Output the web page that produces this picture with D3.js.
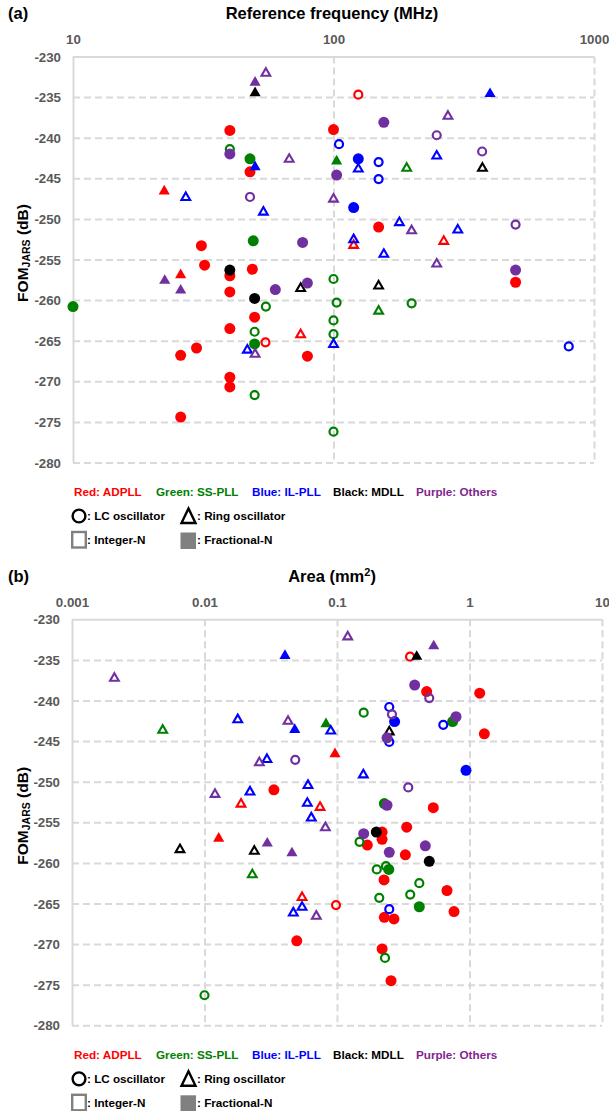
<!DOCTYPE html>
<html>
<head>
<meta charset="utf-8">
<script src="https://cdn.jsdelivr.net/npm/d3@7"></script>
<style>
  html, body { margin: 0; padding: 0; background: #fff; }
  svg { display: block; }
</style>
</head>
<body>
<svg id="chart" width="609" height="1111"></svg>
<script>
// ---- Data: [x value, FOM_JARS (dB), oscillator ("LC" | "RO"), mode ("I" integer-N | "F" fractional-N)]

// (a) FOM vs. reference frequency (MHz)
const adpllFreq = [
  [40,-239.1,"LC","F"],[47.8,-244.2,"LC","F"],[22.4,-246.4,"RO","F"],[100,-239.0,"LC","F"],
  [31.1,-253.3,"LC","F"],[124.5,-234.7,"LC","I"],[149,-251.0,"LC","F"],[265,-252.6,"RO","I"],
  [119.5,-253.1,"RO","I"],[500,-257.8,"LC","F"],[79.4,-266.9,"LC","F"],[32.0,-255.7,"LC","F"],
  [25.9,-256.7,"RO","F"],[40,-257.0,"LC","F"],[48.8,-256.2,"LC","F"],[40,-259.0,"LC","F"],
  [49.8,-262.1,"LC","F"],[40,-263.5,"LC","F"],[54.8,-265.2,"LC","I"],[74.8,-264.1,"RO","I"],
  [29.8,-265.9,"LC","F"],[25.9,-266.8,"LC","F"],[40,-269.5,"LC","F"],[40,-270.7,"LC","F"],
  [25.9,-274.4,"LC","F"]
];
const ssPllFreq = [
  [40,-241.4,"LC","I"],[47.8,-242.6,"LC","F"],[102.8,-242.7,"RO","F"],[49.2,-252.7,"LC","F"],
  [191,-243.6,"RO","I"],[100,-257.4,"LC","I"],[102.8,-260.3,"LC","I"],[199.5,-260.4,"LC","I"],
  [149,-261.2,"RO","I"],[100,-262.5,"LC","I"],[100,-264.2,"LC","I"],[100,-276.2,"LC","I"],
  [10,-260.8,"LC","F"],[55,-260.8,"LC","I"],[49.8,-263.9,"LC","I"],[49.8,-265.4,"LC","F"],
  [49.8,-271.7,"LC","I"]
];
const ilPllFreq = [
  [50,-243.4,"RO","F"],[27.1,-247.2,"RO","I"],[53.8,-249.0,"RO","I"],[105,-240.8,"LC","I"],
  [399,-234.4,"RO","F"],[249,-242.1,"RO","I"],[124.5,-242.6,"LC","F"],[124.5,-243.7,"RO","I"],
  [149,-243.0,"LC","I"],[149,-245.1,"LC","I"],[119.5,-248.6,"LC","F"],[179,-250.3,"RO","I"],
  [300,-251.2,"RO","I"],[119.5,-252.4,"RO","I"],[156,-254.2,"RO","I"],[100,-265.3,"RO","I"],
  [800,-265.7,"LC","I"],[46.7,-266.0,"RO","I"]
];
const mdllFreq = [
  [50,-234.3,"RO","F"],[373,-243.6,"RO","I"],[149,-258.1,"RO","I"],[74.8,-258.4,"RO","I"],
  [40,-256.3,"LC","F"],[49.8,-259.8,"LC","F"]
];
const othersFreq = [
  [40,-242.0,"LC","F"],[50,-233.0,"RO","F"],[55,-231.9,"RO","I"],[67.6,-242.5,"RO","I"],
  [47.8,-247.3,"LC","I"],[102.8,-244.6,"LC","F"],[100,-247.4,"RO","I"],[76.1,-252.9,"LC","F"],
  [275,-237.2,"RO","I"],[156,-238.1,"LC","F"],[249,-239.7,"LC","I"],[372,-241.7,"LC","I"],
  [199.5,-251.3,"RO","I"],[500,-250.7,"LC","I"],[249,-255.4,"RO","I"],[500,-256.3,"LC","F"],
  [79.4,-257.9,"LC","F"],[22.5,-257.4,"RO","F"],[25.9,-258.6,"RO","F"],[59.8,-258.7,"LC","F"],
  [50,-266.5,"RO","I"]
];

// (b) FOM vs. area (mm^2)
const adpllArea = [
  [0.0966,-246.4,"RO","F"],[0.0334,-251.0,"LC","F"],[0.01886,-252.6,"RO","I"],[0.0745,-253.0,"RO","I"],
  [0.0128,-256.8,"RO","F"],[0.0545,-264.1,"RO","I"],[0.0983,-265.2,"LC","I"],[0.0497,-269.6,"LC","F"],
  [0.356,-234.6,"LC","I"],[0.475,-238.9,"LC","F"],[1.194,-239.1,"LC","F"],[1.294,-244.1,"LC","F"],
  [0.533,-253.2,"LC","F"],[0.3357,-255.6,"LC","F"],[0.219,-256.2,"LC","F"],[0.219,-257.1,"LC","F"],
  [0.1694,-257.8,"LC","F"],[0.328,-259.0,"LC","F"],[0.2265,-262.1,"LC","F"],[0.676,-263.4,"LC","F"],
  [0.764,-266.0,"LC","F"],[0.2275,-266.7,"LC","F"],[0.269,-266.9,"LC","F"],[0.219,-270.6,"LC","F"],
  [0.2556,-274.5,"LC","F"]
];
const ssPllArea = [
  [0.00484,-243.5,"RO","I"],[0.0826,-242.7,"RO","F"],[0.02296,-261.3,"RO","I"],[0.01,-276.3,"LC","I"],
  [0.159,-241.5,"LC","I"],[0.746,-242.6,"LC","F"],[0.2276,-252.7,"LC","F"],[0.148,-257.4,"LC","I"],
  [0.1995,-260.8,"LC","I"],[0.2344,-260.4,"LC","I"],[0.246,-260.8,"LC","F"],[0.418,-262.5,"LC","I"],
  [0.357,-263.9,"LC","I"],[0.2085,-264.3,"LC","I"],[0.418,-265.4,"LC","F"],[0.2303,-271.7,"LC","I"]
];
const ilPllArea = [
  [0.0405,-234.3,"RO","F"],[0.01782,-242.2,"RO","I"],[0.048,-243.4,"RO","F"],[0.0897,-243.6,"RO","I"],
  [0.0296,-247.1,"RO","I"],[0.0604,-250.3,"RO","I"],[0.02203,-251.1,"RO","I"],[0.0597,-252.5,"RO","I"],
  [0.064,-254.3,"RO","I"],[0.0545,-265.3,"RO","I"],[0.0468,-266.0,"RO","I"],[0.158,-249.0,"RO","I"],
  [0.248,-240.8,"LC","I"],[0.272,-242.6,"LC","F"],[0.634,-243.0,"LC","I"],[0.248,-245.1,"LC","I"],
  [0.941,-248.6,"LC","F"],[0.248,-265.7,"LC","I"]
];
const mdllArea = [
  [0.00653,-258.2,"RO","I"],[0.02378,-258.4,"RO","I"],[0.3996,-234.4,"RO","F"],[0.248,-243.7,"RO","I"],
  [0.198,-256.2,"LC","F"],[0.497,-259.8,"LC","F"]
];
const othersArea = [
  [0.00209,-237.1,"RO","I"],[0.0427,-242.4,"RO","I"],[0.02594,-247.5,"RO","I"],[0.0484,-247.3,"LC","I"],
  [0.0120,-251.4,"RO","I"],[0.0817,-255.5,"RO","I"],[0.02976,-257.4,"RO","F"],[0.0457,-258.6,"RO","F"],
  [0.0698,-266.4,"RO","I"],[0.1205,-232.0,"RO","I"],[0.537,-233.1,"RO","F"],[0.3856,-238.1,"LC","F"],
  [0.497,-239.7,"LC","I"],[0.260,-241.7,"LC","I"],[0.791,-242.0,"LC","F"],[0.2385,-244.6,"LC","F"],
  [0.345,-250.7,"LC","I"],[0.2385,-252.9,"LC","F"],[0.159,-256.4,"LC","F"],[0.248,-258.7,"LC","F"],
  [0.464,-257.9,"LC","F"]
];

// Axis ticks and legend text
const freqTicks = [10, 100, 1000];
const areaTicks = [0.001, 0.01, 0.1, 1, 10];
const fomTicks = [-230, -235, -240, -245, -250, -255, -260, -265, -270, -275, -280];
const groupLabels = ["Red: ADPLL", "Green: SS-PLL", "Blue: IL-PLL", "Black: MDLL", "Purple: Others"];

// ---- Styling
const FONT = "'Liberation Sans', Arial, Helvetica, sans-serif";
const markerColors = ["#ff0000", "#008000", "#0000ff", "#000000", "#7030a0"];
const legendColors = ["#ff0000", "#008000", "#0000ff", "#000000", "#7f2590"];
const gridColor = "#d9d9d9";
const tickColor = "#595959";

const svg = d3.select("#chart");
svg.append("rect").attr("width", 609).attr("height", 1111).attr("fill", "#fff");

function drawPanel(o) {
  const g = svg.append("g");
  const x = d3.scaleLog().domain(o.xDomain).range([o.x0, o.x1]);
  const y = d3.scaleLinear().domain([-230, -280]).range([o.y0, o.y1]);

  // Horizontal grid + y tick labels
  const gy = g.append("g").attr("transform", `translate(${o.x0},0)`)
    .call(d3.axisLeft(y).tickValues(fomTicks).tickSize(-(o.x1 - o.x0)).tickPadding(12)
      .tickFormat(d => String(d)));
  // Vertical grid + x tick labels (on top)
  const gx = g.append("g").attr("transform", `translate(0,${o.y0})`)
    .call(d3.axisTop(x).tickValues(o.xTicks).tickSize(-(o.y1 - o.y0)).tickPadding(12.5)
      .tickFormat(d => String(d)));

  [gy, gx].forEach(ax => {
    ax.select(".domain").remove();
    ax.selectAll(".tick line")
      .attr("stroke", gridColor).attr("stroke-width", 2)
      .attr("stroke-dasharray", (d, i) => i === 0 ? null : "7,4");
    ax.selectAll(".tick text")
      .attr("fill", tickColor).attr("font-family", FONT)
      .attr("font-size", 13.3).attr("font-weight", "bold");
  });
  gy.selectAll(".tick text").attr("dy", "0.34em");

  // Axis title (top)
  const t = g.append("text").attr("x", 332).attr("y", o.y0 - 37.5)
    .attr("text-anchor", "middle").attr("font-family", FONT)
    .attr("font-size", 16.5).attr("font-weight", "bold").attr("fill", "#000");
  o.title(t);

  // Panel letter
  g.append("text").attr("x", 8).attr("y", o.y0 - 37.5)
    .attr("font-family", FONT).attr("font-size", 16.5).attr("font-weight", "bold")
    .text(o.letter);

  // Y axis title: FOM_JARS (dB)
  const yc = o.y0 + 196.5;
  const yt = g.append("text")
    .attr("transform", `translate(27.5,${yc}) rotate(-90)`)
    .attr("text-anchor", "middle").attr("font-family", FONT)
    .attr("font-size", 15.5).attr("font-weight", "bold");
  yt.append("tspan").text("FOM");
  yt.append("tspan").attr("font-size", 10.5).attr("dy", 2).text("JARS");
  yt.append("tspan").attr("dy", -2).text(" (dB)");

  // Markers
  const triOpen = d3.symbol().type(d3.symbolTriangle).size(33)();
  const triFill = d3.symbol().type(d3.symbolTriangle).size(54)();
  o.groups.forEach((rows, gi) => {
    const col = markerColors[gi];
    rows.forEach(r => {
      const px = x(r[0]), py = y(r[1]);
      const filled = r[3] === "F";
      if (r[2] === "LC") {
        if (filled) {
          g.append("circle").attr("cx", px).attr("cy", py).attr("r", 5.5).attr("fill", col);
        } else {
          g.append("circle").attr("cx", px).attr("cy", py).attr("r", 4)
            .attr("fill", "none").attr("stroke", col).attr("stroke-width", 2.2);
        }
      } else {
        if (filled) {
          g.append("path").attr("d", triFill)
            .attr("transform", `translate(${px},${py + 1.6})`).attr("fill", col);
        } else {
          g.append("path").attr("d", triOpen)
            .attr("transform", `translate(${px},${py + 1.3})`)
            .attr("fill", "none").attr("stroke", col).attr("stroke-width", 2.1)
            .attr("stroke-linejoin", "miter");
        }
      }
    });
  });

  // Legend
  const ly = o.y0 + 439.5;
  const lg = g.append("g").attr("font-family", FONT).attr("font-size", 11.7).attr("font-weight", "bold");
  const lx = [74, 156, 252, 333, 416];
  groupLabels.forEach((lab, i) => {
    lg.append("text").attr("x", lx[i]).attr("y", ly).attr("fill", legendColors[i]).text(lab);
  });
  lg.append("circle").attr("cx", 79).attr("cy", ly + 20).attr("r", 6.4)
    .attr("fill", "none").attr("stroke", "#000").attr("stroke-width", 2.4);
  lg.append("text").attr("x", 87).attr("y", ly + 24).text(": LC oscillator");
  lg.append("path").attr("d", `M188.5,${ly + 12.5}L195.5,${ly + 27}L181.5,${ly + 27}Z`)
    .attr("fill", "none").attr("stroke", "#000").attr("stroke-width", 2.4);
  lg.append("text").attr("x", 197).attr("y", ly + 24).text(": Ring oscillator");
  lg.append("rect").attr("x", 72.2).attr("y", ly + 36).attr("width", 13.6).attr("height", 15.5)
    .attr("fill", "#fff").attr("stroke", "#808080").attr("stroke-width", 2.4);
  lg.append("text").attr("x", 87).attr("y", ly + 48).text(": Integer-N");
  lg.append("rect").attr("x", 180.5).attr("y", ly + 36.5).attr("width", 15.5).attr("height", 16.5)
    .attr("fill", "#808080");
  lg.append("text").attr("x", 197).attr("y", ly + 48).text(": Fractional-N");
}

drawPanel({
  letter: "(a)",
  x0: 73, x1: 594, y0: 56.5, y1: 462.5,
  xDomain: [10, 1000], xTicks: freqTicks,
  title: t => t.text("Reference frequency (MHz)"),
  groups: [adpllFreq, ssPllFreq, ilPllFreq, mdllFreq, othersFreq]
});

drawPanel({
  letter: "(b)",
  x0: 72, x1: 602, y0: 619.3, y1: 1025.3,
  xDomain: [0.001, 10], xTicks: areaTicks,
  title: t => {
    t.append("tspan").text("Area (mm");
    t.append("tspan").attr("font-size", 11).attr("dy", -6).text("2");
    t.append("tspan").attr("dy", 6).text(")");
  },
  groups: [adpllArea, ssPllArea, ilPllArea, mdllArea, othersArea]
});
</script>
</body>
</html>
